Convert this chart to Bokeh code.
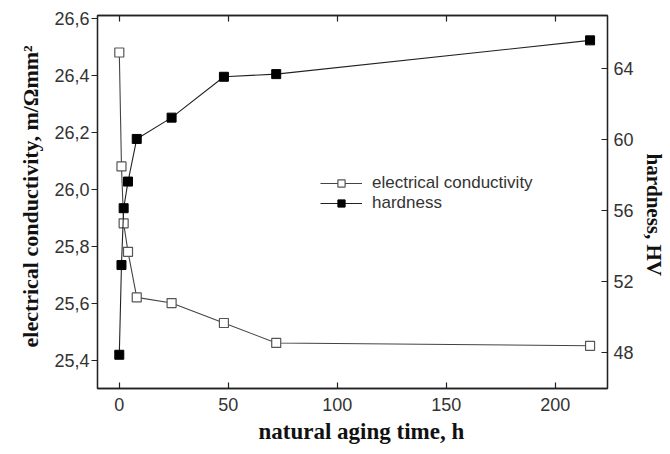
from bokeh.plotting import figure
from bokeh.models import (Range1d, LinearAxis, FixedTicker, CustomJSTickFormatter,
                          Legend, LegendItem, Title)
from bokeh.embed import file_html
from bokeh.resources import INLINE

# data
time_h = [0, 1, 2, 4, 8, 24, 48, 72, 216]
conductivity = [26.48, 26.08, 25.88, 25.78, 25.62, 25.60, 25.53, 25.46, 25.45]
hardness = [47.9, 52.95, 56.15, 57.65, 60.05, 61.25, 63.55, 63.7, 65.6]
x_ticks = [0, 50, 100, 150, 200]
ec_ticks = [25.4, 25.6, 25.8, 26.0, 26.2, 26.4, 26.6]
hv_ticks = [48, 52, 56, 60, 64]
x_title = "natural aging time, h"
ec_title = "electrical conductivity, m/\u03a9mm\u00b2"
hv_title = "hardness, HV"

p = figure(width=670, height=454, output_backend="svg", toolbar_location=None,
           x_range=Range1d(-10, 224), y_range=Range1d(25.30, 26.61),
           min_border_left=97, min_border_right=63, min_border_top=15, min_border_bottom=66)
p.extra_y_ranges = {"hv": Range1d(46.0, 67.0)}
p.grid.visible = False
p.outline_line_color = "#222222"
p.outline_line_width = 1.3
p.background_fill_color = "white"
p.border_fill_color = "white"

tick_font = "Liberation Sans"
title_font = "Liberation Serif"

def style(ax):
    ax.axis_line_color = "#222222"
    ax.axis_line_width = 1.3
    ax.major_tick_line_color = "#222222"
    ax.major_tick_line_width = 1.2
    ax.minor_tick_line_color = None
    ax.major_label_text_font = tick_font
    ax.major_label_text_font_size = "18px"
    ax.major_label_text_color = "#333333"

# bottom axis
xa = p.xaxis[0]
style(xa)
xa.ticker = FixedTicker(ticks=x_ticks)
xa.major_tick_in = 6
xa.major_tick_out = 0
xa.major_label_standoff = 9

# left axis
ya = p.yaxis[0]
style(ya)
ya.ticker = FixedTicker(ticks=ec_ticks)
ya.formatter = CustomJSTickFormatter(code="return tick.toFixed(1).replace('.', ',');")
ya.major_tick_in = 0
ya.major_tick_out = 6
ya.major_label_standoff = 2

# right axis
ra = LinearAxis(y_range_name="hv", ticker=FixedTicker(ticks=hv_ticks))
style(ra)
ra.major_tick_in = 6
ra.major_tick_out = 0
ra.major_label_standoff = 6
p.add_layout(ra, "right")

# top axis (ticks only)
ta = LinearAxis(ticker=FixedTicker(ticks=x_ticks))
style(ta)
ta.major_tick_in = 6
ta.major_tick_out = 0
ta.major_label_standoff = 0
ta.formatter = CustomJSTickFormatter(code="return '';")
p.add_layout(ta, "above")

# axis titles
def axis_title(text, size, offset, standoff, valign="middle"):
    return Title(text=text, align="left", offset=offset, vertical_align=valign,
                 standoff=standoff, text_font=title_font, text_font_style="bold",
                 text_font_size=size, text_color="#111111")

p.add_layout(axis_title(ec_title, "22px", 41, 15), "left")
p.add_layout(axis_title(x_title, "23px", 161, 6, "bottom"), "below")
p.add_layout(axis_title(hv_title, "21px", 138, 8), "right")

l1 = p.line(time_h, conductivity, line_color="#444444", line_width=1.1)
s1 = p.scatter(time_h, conductivity, marker="square", size=9, fill_color="white",
               line_color="#555555", line_width=1.2)
l2 = p.line(time_h, hardness, y_range_name="hv", line_color="#222222", line_width=1.1)
s2 = p.scatter(time_h, hardness, y_range_name="hv", marker="square", size=9,
               fill_color="black", line_color="black")

legend = Legend(items=[LegendItem(label="electrical conductivity", renderers=[l1, s1]),
                       LegendItem(label="hardness", renderers=[l2, s2])],
                location=(223, 175), glyph_width=42, glyph_height=18,
                label_standoff=10, spacing=-2, padding=0, margin=0,
                border_line_color=None, background_fill_alpha=0,
                label_text_font=tick_font, label_text_font_size="17px",
                label_text_color="#333333", label_height=18)
p.add_layout(legend, "center")

open("out.html", "w").write(file_html(p, INLINE))
